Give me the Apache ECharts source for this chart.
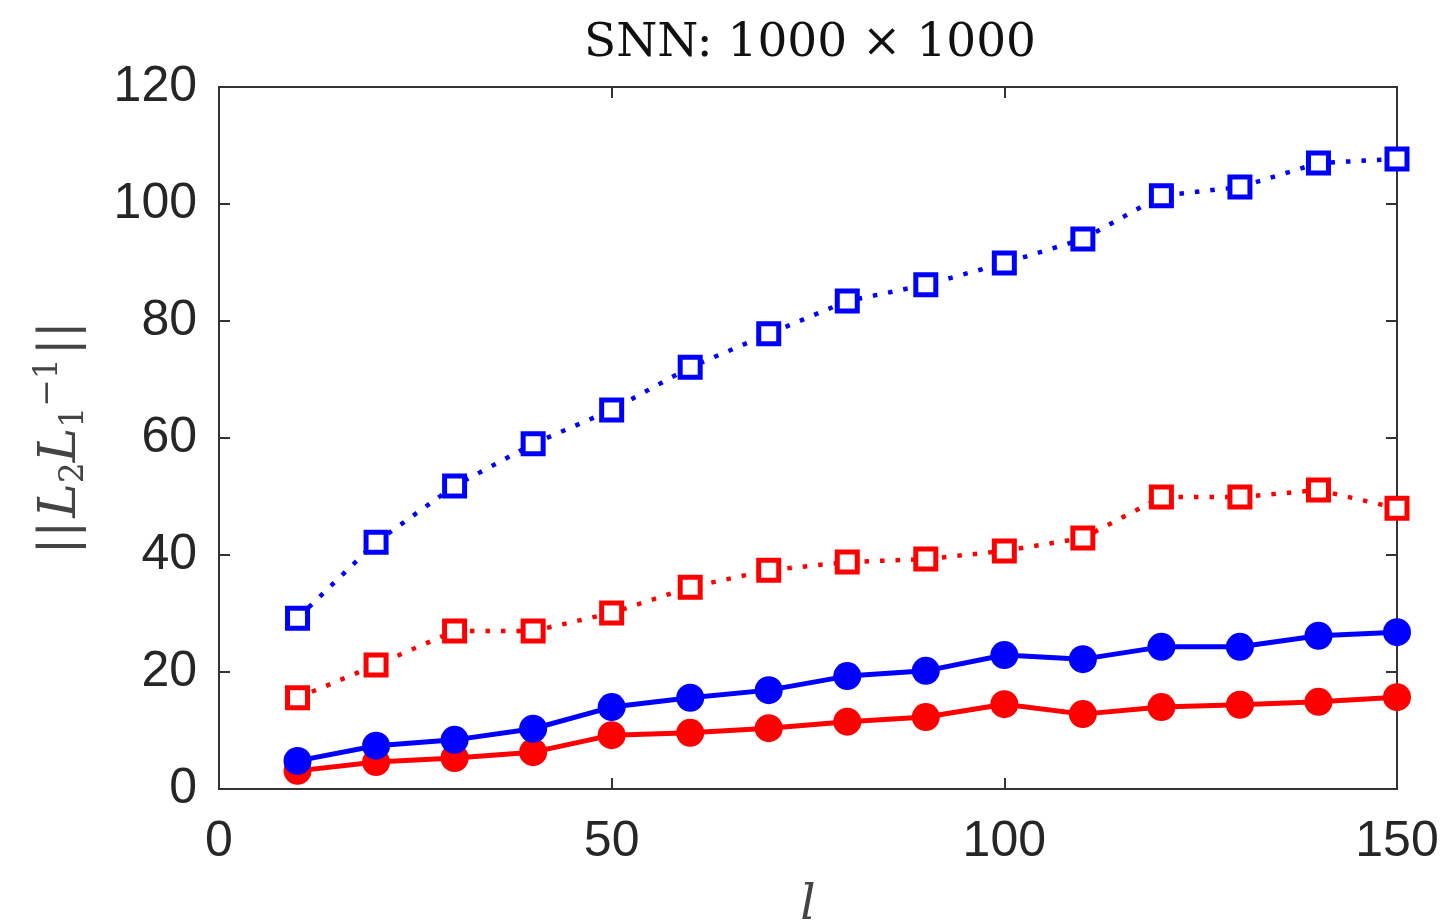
<!DOCTYPE html>
<html>
<head>
<meta charset="utf-8">
<script src="https://cdn.jsdelivr.net/npm/echarts@6/dist/echarts.min.js"></script>
<style>html,body{margin:0;padding:0;background:#fff}#c{width:1450px;height:922px}</style>
</head>
<body>
<div id="c"></div>
<script>
const ls = [10,20,30,40,50,60,70,80,90,100,110,120,130,140,150];
const blueSquare = [29.2,42.2,51.8,59.0,64.8,72.1,77.8,83.4,86.2,89.9,94.0,101.4,102.9,107.0,107.7];
const redSquare = [15.6,21.2,27.0,27.0,30.1,34.5,37.4,38.8,39.3,40.7,42.9,49.9,49.9,51.1,48.0];
const blueCircle = [4.8,7.4,8.4,10.3,14.0,15.6,16.9,19.3,20.2,22.9,22.2,24.3,24.3,26.2,26.8];
const redCircle = [3.1,4.6,5.3,6.3,9.2,9.6,10.4,11.5,12.3,14.5,12.8,14.0,14.4,14.9,15.7];
const xTicks = [0,50,100,150];
const yTicks = [0,20,40,60,80,100,120];
const titleText = 'SNN: 1000 × 1000';

const pair = arr => ls.map((x,i)=>[x,arr[i]]);
const axisColor = '#333';
const labelColor = '#262626';
const serif = '"DejaVu Serif","Liberation Serif",serif';
const sans = '"Liberation Sans","DejaVu Sans",Arial,sans-serif';

function lineSeries(data,color,filled){
  return {
    type:'line', data:pair(data), xAxisIndex:0, yAxisIndex:0, clip:false,
    symbol: filled ? 'circle' : 'rect',
    symbolSize: filled ? 28 : 20,
    itemStyle: filled ? {color:color} : {color:'#fff', borderColor:color, borderWidth:5},
    lineStyle: filled ? {color:color, width:5} : {color:color, width:4.5, type:[4.5,11]},
    emphasis:{disabled:true}, animation:false, z: filled?3:2
  };
}
const tickStyle = {show:true,inside:true,length:11,lineStyle:{color:axisColor,width:2}};

const chart = echarts.init(document.getElementById('c'),null,{renderer:'canvas'});
chart.setOption({
  backgroundColor:'#fff',
  animation:false,
  title:{text:titleText,left:805,top:15,textAlign:'center',
    textStyle:{fontFamily:serif,fontSize:47,fontWeight:'normal',color:'#111'}},
  grid:{left:219,right:53,top:87,bottom:133,containLabel:false,outerBoundsMode:'none',show:true,
    borderColor:axisColor,borderWidth:2,backgroundColor:'transparent'},
  xAxis:[{
    type:'value',min:0,max:150,interval:50,position:'bottom',
    axisLine:{show:true,onZero:false,lineStyle:{color:axisColor,width:2}},
    axisTick:tickStyle,
    axisLabel:{fontFamily:sans,fontSize:50,color:labelColor,margin:28,
      formatter:v=>xTicks.includes(v)?String(v):''},
    splitLine:{show:false},
    name:'l',nameLocation:'middle',nameGap:94,
    nameTextStyle:{fontFamily:serif,fontStyle:'italic',fontSize:48,color:'#444'}
  },{
    type:'value',min:0,max:150,interval:50,position:'top',show:true,
    axisLine:{show:true,onZero:false,lineStyle:{color:axisColor,width:2}},
    axisTick:tickStyle,
    axisLabel:{show:false},splitLine:{show:false}
  }],
  yAxis:[{
    type:'value',min:0,max:120,interval:20,position:'left',
    axisLine:{show:true,onZero:false,lineStyle:{color:axisColor,width:2}},
    axisTick:tickStyle,
    axisLabel:{fontFamily:sans,fontSize:50,color:labelColor,margin:22,padding:[8,0,0,0],
      formatter:v=>yTicks.includes(v)?String(v):''},
    splitLine:{show:false},
    name:'{n|||}{L|L}{s|2}{L|L}{s|1}{p|−1}{n|||}',
    nameLocation:'middle',nameGap:128,nameRotate:90,
    nameTextStyle:{color:'#444',rich:{
      n:{fontFamily:serif,fontSize:50,color:'#444',padding:[0,3,0,3]},
      L:{fontFamily:serif,fontStyle:'italic',fontSize:52,color:'#444'},
      s:{fontFamily:serif,fontSize:33,color:'#444',verticalAlign:'bottom',padding:[20,0,0,0]},
      p:{fontFamily:serif,fontSize:33,color:'#444',verticalAlign:'top',padding:[0,0,26,0]}
    }}
  },{
    type:'value',min:0,max:120,interval:20,position:'right',show:true,
    axisLine:{show:true,onZero:false,lineStyle:{color:axisColor,width:2}},
    axisTick:tickStyle,
    axisLabel:{show:false},splitLine:{show:false}
  }],
  series:[
    lineSeries(blueSquare,'#0000ff',false),
    lineSeries(redSquare,'#ff0000',false),
    lineSeries(redCircle,'#ff0000',true),
    lineSeries(blueCircle,'#0000ff',true),
    {type:'line',data:[],xAxisIndex:1,yAxisIndex:1,silent:true}
  ]
});
</script>
</body>
</html>
